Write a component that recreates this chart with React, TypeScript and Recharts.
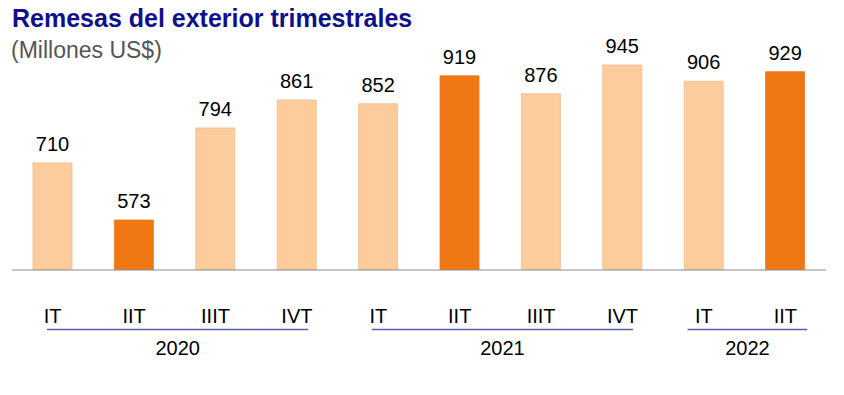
import React from 'react';
import { BarChart, Bar, XAxis, YAxis, Cell, LabelList } from 'recharts';

const quarters = ['IT', 'IIT', 'IIIT', 'IVT', 'IT', 'IIT', 'IIIT', 'IVT', 'IT', 'IIT'];
const years = ['2020', '2020', '2020', '2020', '2021', '2021', '2021', '2021', '2022', '2022'];
const values = [710, 573, 794, 861, 852, 919, 876, 945, 906, 929];
const highlighted = [false, true, false, false, false, true, false, false, false, true];
const yearLabels = ['2020', '2021', '2022'];

const W = 844;
const H = 395;
const M = { top: 40, right: 18, left: 12, bottom: 45 };
const N = quarters.length;
const STEP = (W - M.left - M.right) / N;

const FONT = 'Arial, "Liberation Sans", sans-serif';
const LIGHT = '#FDCC9C';
const ORANGE = '#F07814';

// line extents in band units relative to the group's first/last category
const lineExt: Record<string, [number, number]> = {
  '2020': [-0.07, 0.14],
  '2021': [-0.08, 0.13],
  '2022': [-0.2, 0.27],
};

const data = quarters.map((q, i) => ({
  key: `${years[i]}-${q}`,
  quarter: q,
  year: years[i],
  value: values[i],
  hi: highlighted[i],
}));

const Tick = (props: any) => {
  const { x, y, index } = props;
  const year = years[index];
  const first = years.indexOf(year);
  const last = years.lastIndexOf(year);
  const els: any[] = [
    <text key="q" x={x} y={y + 53} textAnchor="middle" fontSize={20} fontFamily={FONT} fill="#000">
      {quarters[index]}
    </text>,
  ];
  if (index === first && yearLabels.includes(year)) {
    const ext = lineExt[year] || [0, 0];
    const x1 = x + ext[0] * STEP;
    const x2 = x + (last - first) * STEP + ext[1] * STEP;
    els.push(<line key="l" x1={x1} x2={x2} y1={y + 59.5} y2={y + 59.5} stroke="#5C5CB4" strokeWidth={1.3} />);
    els.push(
      <text key="y" x={(x1 + x2) / 2} y={y + 85} textAnchor="middle" fontSize={20} fontFamily={FONT} fill="#000">
        {year}
      </text>
    );
  }
  return <g>{els}</g>;
};

export default function App() {
  return (
    <div style={{ position: 'absolute', left: 0, top: 0, width: W, height: H, background: '#fff' }}>
      <div
        style={{
          position: 'absolute',
          left: 12,
          top: 3,
          fontFamily: FONT,
          fontWeight: 'bold',
          fontSize: 25,
          color: '#10108A',
          whiteSpace: 'nowrap',
          lineHeight: '30px',
        }}
      >
        Remesas del exterior trimestrales
      </div>
      <div
        style={{
          position: 'absolute',
          left: 11,
          top: 36,
          fontFamily: FONT,
          fontSize: 23,
          color: '#555',
          whiteSpace: 'nowrap',
          lineHeight: '28px',
        }}
      >
        (Millones US$)
      </div>
      <div style={{ position: 'absolute', left: 0, top: 0 }}>
        <BarChart width={W} height={H} data={data} margin={M} barCategoryGap={0}>
          <YAxis hide domain={[453, 1005]} allowDataOverflow />
          <XAxis
            dataKey="key"
            height={80}
            interval={0}
            tickLine={false}
            tickSize={0}
            tickMargin={0}
            axisLine={{ stroke: '#8C8C8C', strokeWidth: 1 }}
            tick={<Tick />}
          />
          <Bar dataKey="value" barSize={39} isAnimationActive={false}>
            {data.map((d) => (
              <Cell key={d.key} fill={d.hi ? ORANGE : LIGHT} stroke={d.hi ? ORANGE : '#EDBB8E'} strokeWidth={0.8} />
            ))}
            <LabelList
              dataKey="value"
              position="top"
              offset={12}
              style={{ fontSize: 20, fontFamily: FONT, fill: '#000' }}
            />
          </Bar>
        </BarChart>
      </div>
    </div>
  );
}
